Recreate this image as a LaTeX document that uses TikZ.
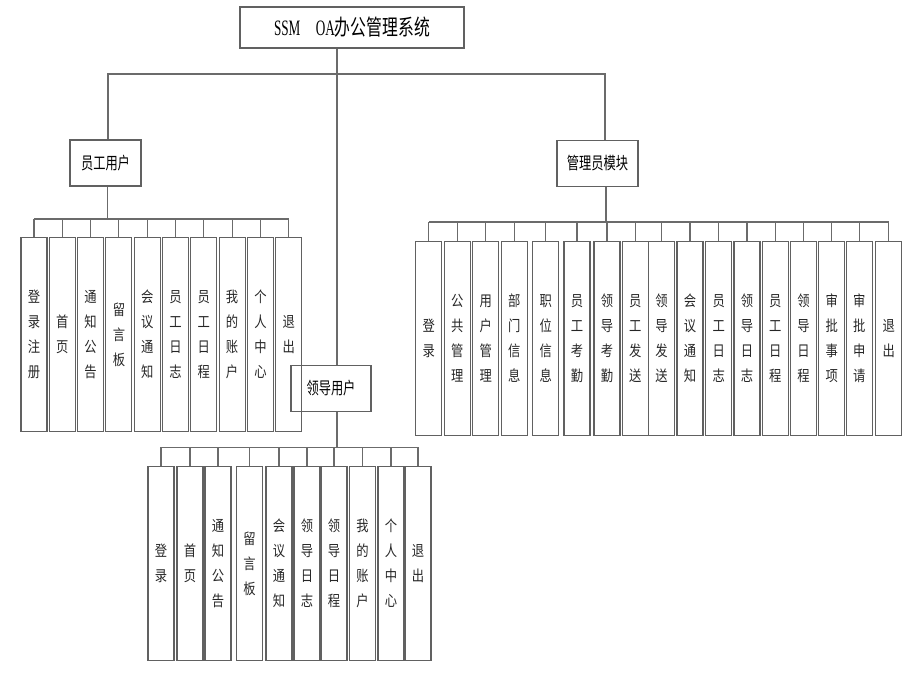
\documentclass[tikz,border=0pt]{standalone}
\usepackage{fontspec}
\setmainfont[FakeStretch=0.6]{Liberation Serif}
\newfontfamily\cjk[FakeStretch=0.82]{Noto Sans CJK SC}
\newfontfamily\cjknarrow[FakeStretch=0.72]{Noto Sans CJK SC}
\usetikzlibrary{positioning}

\begin{document}
\begin{tikzpicture}[
		x=1pt, y=-1pt,
		% --- Styles ---
		topbox/.style={
			rectangle, draw=black!62, line width=1.1pt,
			minimum width=224pt, minimum height=41pt, align=center, font=\fontsize{22}{24}\selectfont
		},
		groupbox/.style={
			rectangle, draw=black!62, line width=1.1pt,
			minimum height=46pt, inner xsep=2pt, align=center, font=\cjknarrow\fontsize{17}{19}\selectfont
		},
		leafbox/.style={
			rectangle, draw=black!62, line width=1.1pt, anchor=north,
			minimum width=26pt, minimum height=194pt, inner sep=0pt, align=center,
			font=\cjk\fontsize{15}{25}\selectfont, text=black!85
		},
		link/.style={
			draw, line width=1.1pt, color=black!58
		}
		]
		\useasboundingbox (0,0) rectangle (921,674);
		
		% --- 1. Root ---
		\node [topbox] (root) at (352,27.5) {SSM\hspace{0.7em}OA{\cjknarrow 办公管理系统}};
		
		% --- 2. Second level ---
		\node [groupbox, minimum width=71pt] (emp) at (105.5,163) {员工用户};
		\node [groupbox, minimum width=81pt] (admin) at (597.5,163.5) {管理员模块};
		\node [groupbox, minimum width=80pt] (leader) at (331,388.5) {领导用户};
		
		% trunk and bus below the root
		\coordinate (bus) at (337,74);
		\draw [link] (root.south -| bus) -- (leader.north -| bus);
		\draw [link] ([xshift=2.5pt]emp.north) |- (bus) -| ([xshift=7.5pt]admin.north);
		
		% --- 3. Leaves of the employee branch ---
		\foreach \x/\txt [count=\i] in {34/登\\录\\注\\册, 62.3/首\\页, 90.6/通\\知\\公\\告,
			118.9/留\\言\\板, 147.2/会\\议\\通\\知, 175.5/员\\工\\日\\志, 203.8/员\\工\\日\\程,
			232.1/我\\的\\账\\户, 260.4/个\\人\\中\\心, 288.7/退\\出}
		\node [leafbox] (e\i) at (\x,237) {\txt};
		
		\coordinate (ebar) at ([xshift=2.2pt]emp.south |- 0,219);
		\draw [link] ([xshift=2.2pt]emp.south) -- (ebar);
		\draw [link] (e1.north |- ebar) -- (e10.north |- ebar);
		\foreach \i in {1,...,10}
		\draw [link] (e\i.north |- ebar) -- (e\i.north);
		
		% --- 4. Leaves of the admin branch ---
		\foreach \x/\txt [count=\i] in {428.8/登\\录, 457.3/公\\共\\管\\理, 485.7/用\\户\\管\\理,
			514.2/部\\门\\信\\息, 545.7/职\\位\\信\\息, 577/员\\工\\考\\勤, 607/领\\导\\考\\勤,
			635.2/员\\工\\发\\送, 661.5/领\\导\\发\\送, 690/会\\议\\通\\知, 718.8/员\\工\\日\\志,
			747/领\\导\\日\\志, 775.2/员\\工\\日\\程, 803.5/领\\导\\日\\程, 831.8/审\\批\\事\\项,
			859.2/审\\批\\申\\请, 888.8/退\\出}
		\node [leafbox] (a\i) at (\x,241) {\txt};
		
		\coordinate (abar) at ([xshift=8.5pt]admin.south |- 0,222);
		\draw [link] ([xshift=8.5pt]admin.south) -- (abar);
		\draw [link] (a1.north |- abar) -- (a17.north |- abar);
		\foreach \i in {1,...,17}
		\draw [link] (a\i.north |- abar) -- (a\i.north);
		
		% --- 5. Leaves of the leader branch ---
		\foreach \x/\txt [count=\i] in {161/登\\录, 190/首\\页, 218/通\\知\\公\\告,
			249.5/留\\言\\板, 279/会\\议\\通\\知, 307/领\\导\\日\\志, 334/领\\导\\日\\程,
			362.5/我\\的\\账\\户, 391/个\\人\\中\\心, 418/退\\出}
		\node [leafbox] (l\i) at (\x,466) {\txt};
		
		\coordinate (lbar) at (leader.south -| bus);
		\draw [link] (lbar) -- ++(0,35) coordinate (lbar2);
		\draw [link] (l1.north |- lbar2) -- (l10.north |- lbar2);
		\foreach \i in {1,...,10}
		\draw [link] (l\i.north |- lbar2) -- (l\i.north);
		
	\end{tikzpicture}
\end{document}
